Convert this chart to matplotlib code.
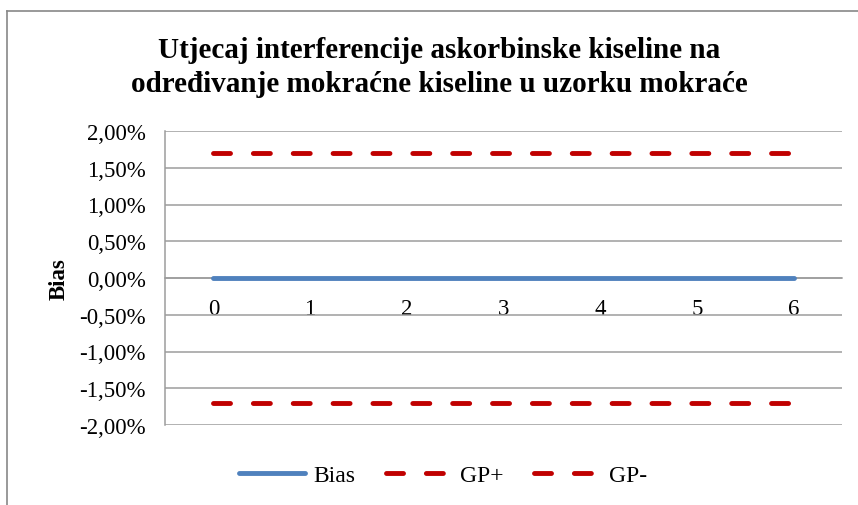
import matplotlib
matplotlib.use("Agg")
import matplotlib.pyplot as plt
from matplotlib.lines import Line2D
from matplotlib.ticker import FuncFormatter
import numpy as np

# Data
x_values = [0, 1, 2, 3, 4, 5, 6]
bias = [0.0, 0.0, 0.0, 0.0, 0.0, 0.0, 0.0]
gp_plus = [0.017, 0.017, 0.017, 0.017, 0.017, 0.017, 0.017]
gp_minus = [-0.017, -0.017, -0.017, -0.017, -0.017, -0.017, -0.017]
y_ticks = [-0.02, -0.015, -0.01, -0.005, 0.0, 0.005, 0.01, 0.015, 0.02]
title_lines = ["Utjecaj interferencije askorbinske kiseline na",
               "određivanje mokraćne kiseline u uzorku mokraće"]

plt.rcParams['font.family'] = ['Liberation Serif', 'DejaVu Serif']

fig = plt.figure(figsize=(8.58, 5.06), dpi=100)
ax = fig.add_axes([165/858, 1-426/506, (842-165)/858, (426-132)/506])

blue = '#4F81BD'
red = '#C00000'
grid_c = '#9C9C9C'
lw = 3.5
dash = (3.5, 4.7)

ax.plot(x_values, bias, color=blue, lw=lw, solid_capstyle='round', label='Bias', zorder=3)
l1, = ax.plot(x_values, gp_plus, color=red, lw=lw, dash_capstyle='round', label='GP+', zorder=3)
l2, = ax.plot(x_values, gp_minus, color=red, lw=lw, dash_capstyle='round', label='GP-', zorder=3)
for l in (l1, l2):
    l.set_dashes(dash)

ax.set_xlim(-0.5, 6.5)
ax.set_ylim(-0.02, 0.02)
ax.set_yticks(y_ticks)
ax.yaxis.set_major_formatter(FuncFormatter(lambda v, p: f"{v*100:.2f}%".replace('.', ',')))
ax.set_xticks(x_values)
ax.set_xticklabels([str(v) for v in x_values])

ax.yaxis.grid(True, color=grid_c, lw=1.1)
ax.set_axisbelow(True)
for s in ('top', 'right'):
    ax.spines[s].set_visible(False)
ax.spines['left'].set_color(grid_c)
ax.spines['left'].set_linewidth(1.1)
ax.spines['bottom'].set_position(('data', 0))
ax.spines['bottom'].set_color(grid_c)
ax.spines['bottom'].set_linewidth(1.1)
ax.tick_params(axis='y', length=0, pad=14, labelsize=16.5)
ax.tick_params(axis='x', length=0, pad=14.5, labelsize=16.5)

ax.set_ylabel('Bias', fontsize=16.5, fontweight='bold', labelpad=7)

for line, base_px in zip(title_lines, [57.7, 91.7]):
    fig.text(0.512, 1-base_px/506, line, ha='center', va='baseline', fontsize=21,
             fontweight='bold')

leg = fig.legend(loc='center', bbox_to_anchor=(0.516, 1-476/506), ncol=3, frameon=False,
                 fontsize=17, handlelength=2.8, columnspacing=1.3, handletextpad=0.35)

# figure border (left & top visible)
fig.add_artist(Line2D([7/858, 7/858], [0, 1-12/506], transform=fig.transFigure, color='#888888', lw=1.2))
fig.add_artist(Line2D([7/858, 1], [1-12/506, 1-12/506], transform=fig.transFigure, color='#888888', lw=1.2))

fig.savefig('out.png', dpi=100)
